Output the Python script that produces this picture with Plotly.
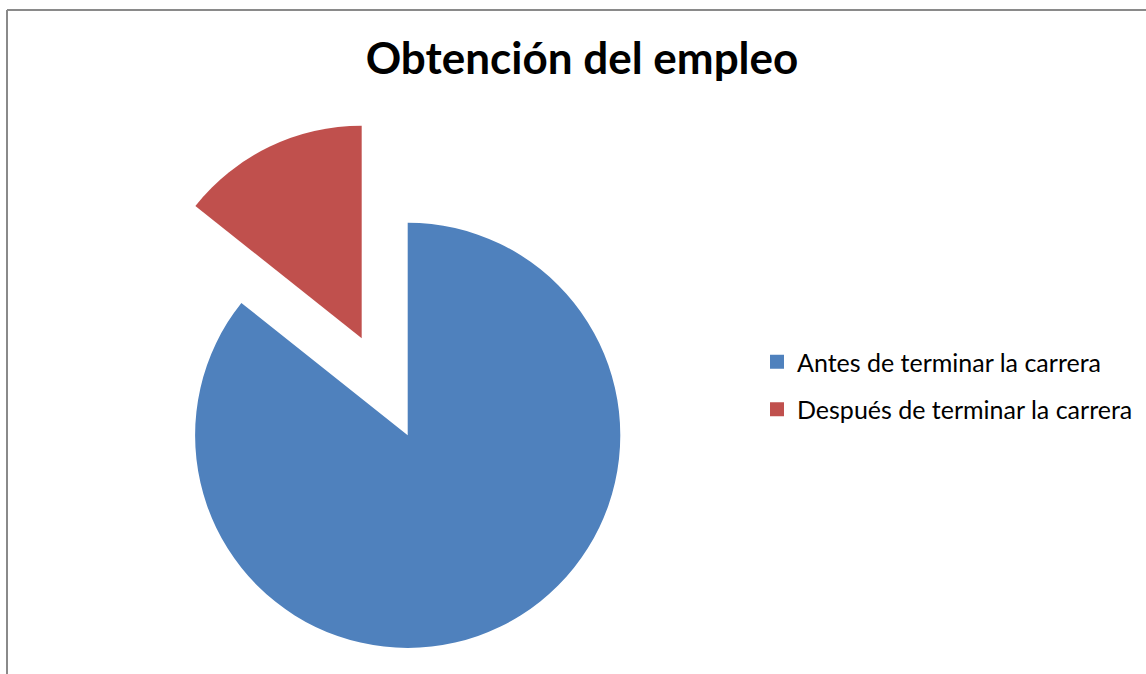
import plotly.graph_objects as go

categories = ["Antes de terminar la carrera", "Después de terminar la carrera"]
values = [85.7, 14.3]
colors = ["#4F81BD", "#C0504D"]
title_text = "Obtención del empleo"

W, H = 1146, 674
FONT = "Lato"

def dom(cx, cy, r):
    return dict(x=[(cx - r) / W, (cx + r) / W], y=[(H - cy - r) / H, (H - cy + r) / H])

R = 212.6
fig = go.Figure()
# main pie (the blue slice in place)
fig.add_trace(go.Pie(
    labels=categories, values=values, sort=False, direction="clockwise", rotation=0,
    marker=dict(colors=[colors[0], "rgba(0,0,0,0)"], line=dict(width=0)),
    textinfo="none", hoverinfo="label+percent", showlegend=False,
    domain=dom(407.7, 435.3, R),
))
# exploded slice
fig.add_trace(go.Pie(
    labels=categories, values=values, sort=False, direction="clockwise", rotation=0,
    marker=dict(colors=["rgba(0,0,0,0)", colors[1]], line=dict(width=0)),
    textinfo="none", hoverinfo="label+percent", showlegend=False,
    domain=dom(361.7, 338.3, R),
))
# legend entries
for i, (c, col) in enumerate(zip(categories, colors)):
    fig.add_trace(go.Scatter(
        x=[None], y=[None], mode="markers", name=c, legendgroup=str(i),
        marker=dict(symbol="square", size=14, color=col),
    ))

fig.update_layout(
    width=W, height=H,
    margin=dict(l=0, r=0, t=0, b=0),
    paper_bgcolor="white", plot_bgcolor="white",
    xaxis=dict(visible=False), yaxis=dict(visible=False),
    title=dict(text="<b>" + title_text + "</b>", x=582 / W, xanchor="center",
               y=1 - 59 / H, yanchor="middle",
               font=dict(family=FONT, size=44, color="black")),
    legend=dict(x=757 / W, xanchor="left", y=1 - 339 / H, yanchor="top",
                font=dict(family=FONT, size=25, color="black"),
                tracegroupgap=12, traceorder="grouped", bgcolor="rgba(0,0,0,0)"),
    shapes=[
        dict(type="line", xref="paper", yref="paper", x0=7 / W, x1=1.01, y0=1 - 10 / H, y1=1 - 10 / H,
             line=dict(color="#8a8a8a", width=2)),
        dict(type="line", xref="paper", yref="paper", x0=7 / W, x1=7 / W, y0=1 - 10 / H, y1=-0.01,
             line=dict(color="#8a8a8a", width=2)),
    ],
)

fig.write_html("out.html", config={"displayModeBar": False},
               post_script="document.body.style.margin='0';document.body.style.padding='0';")
